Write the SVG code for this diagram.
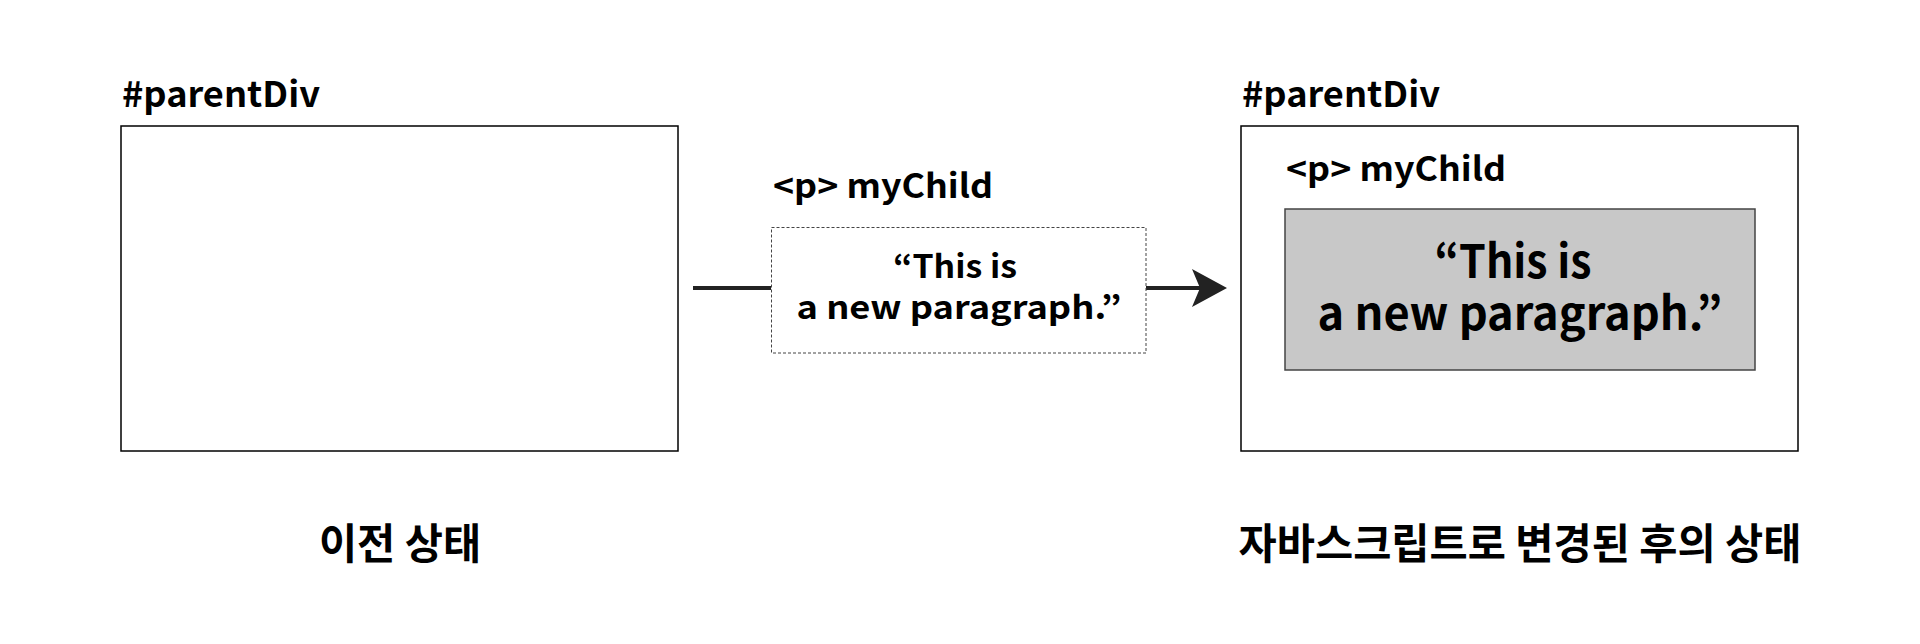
<svg xmlns="http://www.w3.org/2000/svg" width="1920" height="644" viewBox="0 0 1920 644">
<style>
text{font-family:"Noto Sans CJK KR","Noto Sans",sans-serif;font-weight:700;fill:#000}
.lbl{font-size:35px}
.tag{font-size:33px}
.mid{font-size:32px;text-anchor:middle}
.big{font-size:46px;text-anchor:middle}
.cap{font-size:41.5px;text-anchor:middle}
.box{fill:#fff;stroke:#000;stroke-width:1.5}
</style>
<rect width="1920" height="644" fill="#fff"/>
<g id="connectors">
<line x1="693" y1="288" x2="771" y2="288" stroke="#222" stroke-width="4"/>
<line x1="1146" y1="288" x2="1200" y2="288" stroke="#222" stroke-width="4"/>
<path d="M1227 288 L1192 269 L1200 288 L1192 307 Z" fill="#222"/>
</g>
<g id="before">
<text class="lbl" x="122" y="107" textLength="198" lengthAdjust="spacingAndGlyphs">#parentDiv</text>
<rect class="box" x="121" y="126" width="557" height="325"/>
</g>
<g id="child">
<text class="tag" x="773" y="198" textLength="220" lengthAdjust="spacingAndGlyphs">&lt;p&gt; myChild</text>
<rect x="771.5" y="227.5" width="374.5" height="125.5" fill="#fff" stroke="#444" stroke-width="1" stroke-dasharray="3,2"/>
<text class="mid"><tspan x="955" y="278" textLength="124" lengthAdjust="spacingAndGlyphs">“This is</tspan><tspan x="959" y="319" textLength="325" lengthAdjust="spacingAndGlyphs">a new paragraph.”</tspan></text>
</g>
<g id="after">
<text class="lbl" x="1242" y="107" textLength="198" lengthAdjust="spacingAndGlyphs">#parentDiv</text>
<rect class="box" x="1241" y="126" width="557" height="325"/>
<text class="tag" x="1286" y="181" textLength="220" lengthAdjust="spacingAndGlyphs">&lt;p&gt; myChild</text>
<rect x="1285" y="209" width="470" height="161" fill="#c8c8c8" stroke="#444" stroke-width="1.5"/>
<text class="big"><tspan x="1513" y="278" textLength="157" lengthAdjust="spacingAndGlyphs">“This is</tspan><tspan x="1520" y="330" textLength="405" lengthAdjust="spacingAndGlyphs">a new paragraph.”</tspan></text>
</g>
<g id="captions">
<text class="cap" x="400" y="559">이전 상태</text>
<text class="cap" x="1520" y="559">자바스크립트로 변경된 후의 상태</text>
</g>
</svg>
